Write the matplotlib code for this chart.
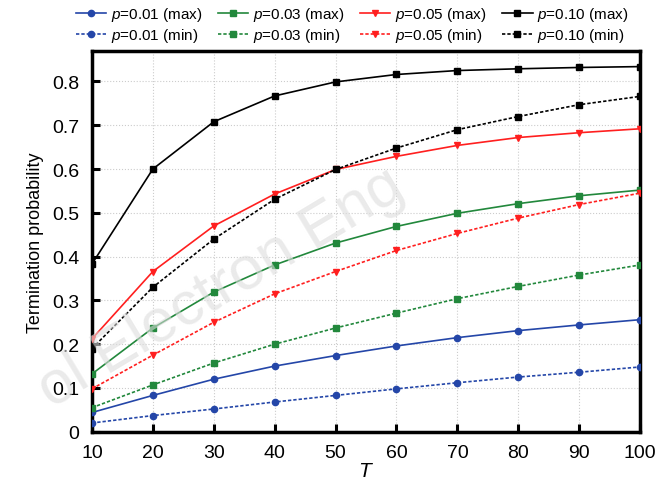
import matplotlib
matplotlib.use("Agg")
import matplotlib.pyplot as plt

plt.rcParams['font.family'] = ['Liberation Sans', 'DejaVu Sans']
plt.rcParams['mathtext.fontset'] = 'custom'
plt.rcParams['mathtext.it'] = 'Liberation Sans:italic'

T = [10, 20, 30, 40, 50, 60, 70, 80, 90, 100]

p01_max = [0.044, 0.083, 0.120, 0.150, 0.174, 0.196, 0.215, 0.231, 0.244, 0.256]
p01_min = [0.020, 0.037, 0.052, 0.068, 0.083, 0.098, 0.112, 0.125, 0.136, 0.148]
p03_max = [0.132, 0.237, 0.319, 0.381, 0.431, 0.469, 0.499, 0.521, 0.539, 0.552]
p03_min = [0.055, 0.107, 0.157, 0.200, 0.237, 0.271, 0.304, 0.332, 0.358, 0.381]
p05_max = [0.212, 0.366, 0.470, 0.543, 0.599, 0.629, 0.654, 0.672, 0.683, 0.692]
p05_min = [0.098, 0.175, 0.250, 0.315, 0.366, 0.414, 0.453, 0.488, 0.519, 0.545]
p10_max = [0.383, 0.600, 0.708, 0.767, 0.799, 0.816, 0.825, 0.829, 0.832, 0.834]
p10_min = [0.190, 0.330, 0.440, 0.531, 0.599, 0.648, 0.690, 0.720, 0.747, 0.766]

labels_max = [r'$p$=0.01 (max)', r'$p$=0.03 (max)', r'$p$=0.05 (max)', r'$p$=0.10 (max)']
labels_min = [r'$p$=0.01 (min)', r'$p$=0.03 (min)', r'$p$=0.05 (min)', r'$p$=0.10 (min)']
colors = ['#2446a8', '#22883c', '#ff1f1f', '#000000']
markers = ['o', 's', 'v', 's']

max_series = [p01_max, p03_max, p05_max, p10_max]
min_series = [p01_min, p03_min, p05_min, p10_min]

fig = plt.figure(figsize=(6.71, 4.89), dpi=100)
ax = fig.add_axes([0.137, 0.115, 0.817, 0.779])

handles = []
for i in range(4):
    h1, = ax.plot(T, max_series[i], color=colors[i], marker=markers[i], ms=4.5,
                  lw=1.2, ls='-', label=labels_max[i], zorder=3)
    h2, = ax.plot(T, min_series[i], color=colors[i], marker=markers[i], ms=4.5,
                  lw=1.2, ls=(0, (2, 1.2)), label=labels_min[i], zorder=3)
    handles.append((h1, h2))

order = []
for i in range(4):
    order.append(handles[i][0])
    order.append(handles[i][1])
fig.legend(order, [h.get_label() for h in order], ncol=4, loc='upper center',
           bbox_to_anchor=(0.525, 1.015), frameon=False, fontsize=11,
           handlelength=2.0, columnspacing=1.0, handletextpad=0.3,
           labelspacing=0.2)

ax.set_xlim(10, 100)
ax.set_ylim(0, 0.87)
ax.set_xticks(T)
ax.set_yticks([0, 0.1, 0.2, 0.3, 0.4, 0.5, 0.6, 0.7, 0.8])
ax.set_yticklabels(['0', '0.1', '0.2', '0.3', '0.4', '0.5', '0.6', '0.7', '0.8'])
ax.tick_params(direction='in', length=6, width=2.2, labelsize=14)
ax.tick_params(axis='y', pad=9)
ax.tick_params(axis='x', pad=9)
ax.grid(True, ls=':', color='#cccccc', lw=0.8)
for s in ax.spines.values():
    s.set_linewidth(2.5)
ax.set_xlabel(r'$T$', fontsize=15, labelpad=0)
ax.set_ylabel('Termination probability', fontsize=13, labelpad=6)

fig.text(0.33, 0.41, 'ol Electron Eng', fontsize=44, color='#dddddd',
         rotation=31, ha='center', va='center', alpha=0.6, zorder=0)

fig.savefig('out.png', dpi=100)
